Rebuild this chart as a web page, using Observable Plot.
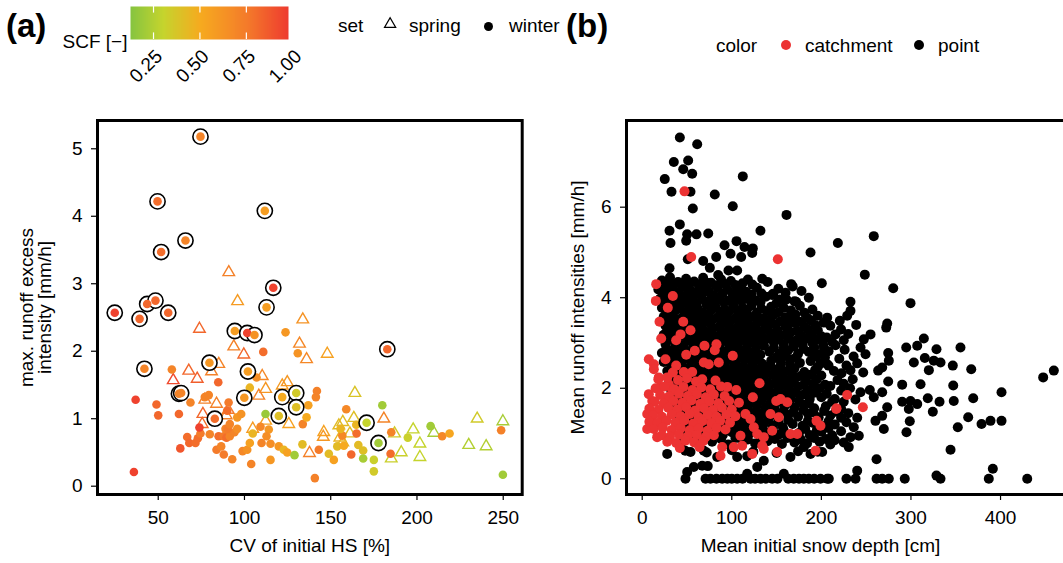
<!DOCTYPE html>
<html><head><meta charset="utf-8">
<script src="https://cdn.jsdelivr.net/npm/d3@7"></script>
<script src="https://cdn.jsdelivr.net/npm/@observablehq/plot@0.6"></script>
<style>
html,body{margin:0;padding:0;background:#fff;overflow:hidden;}
#root{position:relative;width:1063px;height:563px;overflow:hidden;font-family:"Liberation Sans",Arial,Helvetica,sans-serif;color:#000;}
.lbl{position:absolute;font-size:19px;line-height:20px;white-space:nowrap;}
.tag{position:absolute;font-size:33px;font-weight:bold;line-height:33px;white-space:nowrap;}
</style></head><body><div id="root"></div>
<script>
const FONT = '"Liberation Sans", Arial, Helvetica, sans-serif';

// ---------- tick labels ----------
const cvTicks = [50, 100, 150, 200, 250];
const intensityTicks = [0, 1, 2, 3, 4, 5];
const depthTicks = [0, 100, 200, 300, 400];
const meanIntTicks = [0, 2, 4, 6];
const scfTicks = [0.25, 0.5, 0.75, 1.0];
const scfDomain = [0.126, 0.977];
const scfStops = [0.126, 0.3, 0.5, 0.75, 0.977];
const scfColors = ["#86c440", "#c5d42d", "#f6aa1f", "#f47b2a", "#ee3a2f"];
const setNames = ["spring", "winter"];
const colorNames = ["catchment", "point"];

// ---------- panel (a): [CV of initial HS %, max runoff excess intensity mm/h, SCF] ----------
const springPoints = [
[90.9,3.17,0.72],[96,2.74,0.58],[73.9,2.33,0.82],[133.8,2.47,0.62],[93.8,2.07,0.72],[99.6,1.95,0.82],
[131.9,2.11,0.68],[136,1.88,0.68],[148,1.96,0.55],[67.7,1.71,0.82],[58.7,1.57,0.92],[72.6,1.59,0.85],
[85.1,1.81,0.7],[80.9,1.70,0.72],[77,1.28,0.72],[83.8,1.22,0.72],[90.6,1.13,0.75],[89.4,1.05,0.72],
[75.9,1.07,0.82],[75.5,0.92,0.8],[110.3,1.63,0.68],[112.3,1.44,0.6],[108.3,1.34,0.7],[121.9,1.49,0.58],
[124.8,1.54,0.6],[112.3,0.97,0.55],[104.8,0.85,0.58],[125.7,0.92,0.55],[126.7,1.29,0.6],[146,0.8,0.55],
[145.7,0.73,0.6],[137.7,0.49,0.72],[154.7,0.9,0.42],[155.3,0.72,0.45],[164,1.38,0.38],[157,0.95,0.42],
[163.4,1.01,0.4],[161.1,0.78,0.42],[157,0.65,0.45],[180.8,1.0,0.7],[187,0.78,0.35],[190.9,0.5,0.32],
[185.1,0.41,0.32],[197.8,0.84,0.3],[201.7,0.63,0.3],[201.7,0.43,0.3],[209.8,0.79,0.22],[234.9,1.0,0.35],
[230,0.61,0.25],[240.1,0.59,0.25],[249.8,0.96,0.22]
];
const winterPoints = [
[36.9,1.28,0.95],[35.9,0.21,0.95],[49,1.21,0.82],[50,1.05,0.82],[57.9,1.73,0.7],[62,1.07,0.82],
[68.7,1.24,0.7],[62.8,0.56,0.88],[66.8,0.73,0.8],[68,0.64,0.82],[71.6,0.64,0.8],[73,0.71,0.8],
[74.5,0.78,0.75],[73.9,0.87,0.95],[77,1.32,0.7],[79.3,1.35,0.7],[84.8,1.54,0.82],[79.9,0.77,0.7],
[83.8,0.54,0.75],[86.5,0.59,0.7],[88,0.47,0.75],[85,0.74,0.8],[88,0.74,0.75],[89.6,0.72,0.8],
[91.5,0.74,0.7],[94.2,0.8,0.7],[89,0.85,0.7],[90.3,0.85,0.75],[91.5,0.92,0.7],[95.8,0.85,0.65],
[90.8,1.24,0.75],[90,1.12,0.8],[92.9,0.40,0.7],[95.8,1.02,0.6],[98.1,1.07,0.62],[98.9,0.52,0.68],
[101.6,0.54,0.62],[103.9,0.33,0.7],[104.8,0.78,0.45],[103.1,0.64,0.55],[103.1,1.46,0.45],[107,1.61,0.65],
[110.9,1.99,0.8],[123.8,2.28,0.6],[112.2,1.07,0.18],[109.3,0.88,0.68],[114.1,0.84,0.6],[112.8,0.74,0.65],
[109.9,0.64,0.7],[115.1,0.63,0.65],[115.1,0.39,0.6],[119.9,0.59,0.6],[122.8,0.54,0.45],[124.8,0.5,0.55],
[129,0.46,0.2],[130.9,1.97,0.62],[133.8,0.92,0.7],[133.6,0.62,0.42],[136,1.02,0.5],[137,1.2,0.55],
[140.8,0.12,0.72],[141.4,1.32,0.7],[142,1.41,0.72],[143.1,0.54,0.75],[148.9,0.48,0.42],[151.8,0.39,0.55],
[153.8,0.59,0.42],[159,1.14,0.68],[161.9,0.47,0.82],[156.7,0.75,0.68],[155.7,0.85,0.45],[165,0.78,0.8],
[164.8,0.91,0.45],[157.6,0.6,0.5],[166,0.61,0.42],[168.8,0.53,0.4],[168.8,0.41,0.22],[175,0.39,0.32],
[175,0.22,0.35],[179.9,1.2,0.2],[185.1,0.8,0.7],[184.7,0.48,0.8],[194.7,0.72,0.32],[207.9,0.89,0.2],
[214.6,0.74,0.68],[218.9,0.78,0.52],[248.8,0.83,0.72],[249.8,0.17,0.2]
];
const winterRinged = [
[74.5,5.18,0.7],[49.6,4.22,0.8],[111.8,4.08,0.57],[65.8,3.64,0.7],[51.7,3.47,0.8],[116.7,2.94,0.95],
[112.8,2.65,0.57],[24.8,2.57,0.95],[39.2,2.48,0.82],[43.6,2.70,0.82],[48.4,2.75,0.82],[55.8,2.57,0.82],
[42,1.74,0.7],[94.4,2.30,0.57],[101.6,2.27,0.95],[105.8,2.24,0.62],[79.7,1.83,0.6],[102,1.70,0.57],
[62,1.37,0.7],[63.3,1.38,0.7],[99.9,1.31,0.6],[82.8,1.0,0.8],[121.9,1.32,0.5],[130,1.38,0.35],
[130,1.17,0.4],[119.9,1.04,0.4],[182.8,2.03,0.82],[170.8,0.94,0.3],[177.7,0.64,0.2]
];

// ---------- panel (b): [mean initial snow depth cm, mean runoff intensity mm/h] ----------
const pointPoints = [
[42,7.54],[61.4,7.39],[35.3,7.0],[51.3,7.03],[45.8,6.84],[55.8,6.74],[25.2,6.62],[112.3,6.68],[32.7,6.34],
[53.9,6.34],[81,6.28],[56.5,5.97],[101.1,6.02],[161.1,5.83],[42,5.62],[30.5,5.48],[31.6,5.21],[50.2,5.4],
[60.6,5.4],[73.7,5.42],[49.1,5.26],[132,5.48],[91.9,5.16],[105.3,5.25],[114.2,5.12],[123.5,5.09],[122.8,4.99],
[98.6,4.97],[110.5,4.9],[82.6,4.9],[68.1,4.81],[50.9,4.85],[187.9,5.0],[218.4,5.21],[258.5,5.36],[30.5,4.65],
[75.5,4.66],[84.8,4.5],[96.3,4.6],[106,4.6],[134,4.42],[166.3,4.3],[177.8,4.15],[200.5,4.32],[146.2,4.09],
[153.3,3.96],[161.1,3.96],[171.9,3.91],[248.5,4.51],[280.2,4.21],[232.5,3.91],[299.5,3.88],
[206.5,3.56],[202.7,3.45],[232.5,3.71],[228.8,3.6],[220.6,3.49],[238.9,3.4],[273.5,3.43],[272.4,3.34],
[215.8,3.19],[225,3.06],[215.8,2.95],[254.9,3.19],[247.4,3.08],[243.7,2.9],[249.3,2.75],[274.6,2.78],
[275.3,2.61],[294.7,2.9],[307,2.94],[314.4,3.1],[328.5,2.86],[355.3,2.9],[303.2,2.57],[315.5,2.67],
[325.5,2.61],[333,2.57],[320,2.4],[346.7,2.5],[367.3,2.42],[447.6,2.24],[459.5,2.39],[206.5,2.53],
[222.5,2.33],[232.5,2.4],[246.7,2.35],[263.4,2.39],[267.9,2.46],[274.6,2.15],[290.2,2.08],[310.7,2.09],
[347.2,2.06],[243.7,1.91],[254.1,1.96],[267.9,1.91],[258.5,1.8],[290.2,1.7],[299.5,1.72],[307,1.65],
[297.6,1.54],[318.8,1.78],[331.9,1.7],[347.8,1.72],[324.4,1.48],[369.5,1.78],[401.1,1.91],[273.5,1.58],
[267.9,1.39],[260.4,1.28],[269.7,1.1],[298.7,1.27],[295,1.03],[363.9,1.36],[352.3,1.14],[378.8,1.21],
[388.8,1.28],[401.1,1.28],[344.2,0.64],[261.6,0.43],[230.6,0.7],[232.5,0.92],[241.8,0.95],[236.2,1.14],
[200.9,0.59],
[222,3.3],[230,3.2],[226,2.85],[236,2.7],[220,2.65],[228,2.5],[240,2.55],[225,2.1],[235,2.2],[222,1.95],
[232,2.0],[225,1.7],[238,1.75],[230,1.45],[222,1.55],[240,1.35],[228,1.25],[222,1.05],[215,0.85],[225,0.8],
[206.5,0],[228,0],[238.1,0],[240,0.18],[261.6,0],[267.9,0],[275.3,0],[293.1,0],[328.5,0.07],[333,0],
[386.9,0],[391.4,0.22],[429.8,0],[48.3,0],[50.2,0.15],[57.6,0.26],[70.7,0],[73.2,0.28],[76.2,0],[82.9,0],
[89.3,0],[95,0],[100,0],[106,0],[112,0],[117.2,0.11],[120.9,0],[126,0],[132.1,0],[138,0],[145.1,0],[151,0],
[158.1,0.11],[163,0],[169.2,0],[175,0],[180.4,0],[186,0],[192,0],[199,0],[208.3,0],
[27.9,0.55],[53.9,0.59],[68.8,0.62],[67,0.29],[83.7,0.48],[106,0.48],[117.2,0.5],[128.4,0.26],[135.7,0.4],
[165.5,0.48],[180.4,0.7],[187.9,0.55],
[22,4.38],[31,4.45],[40,4.35],[49,4.42],[58,4.36],[68,4.44],[77,4.33],[88,4.41],[99,4.37],[118,4.4],[140,4.35],
[18,4.18],[27,4.22],[36,4.15],[45,4.24],[54,4.17],[64,4.21],[74,4.14],[84,4.23],[95,4.18],[106,4.2],[116,4.13],[128,4.22],[152,4.2],[168,4.25],
[20,3.98],[29,4.03],[38,3.95],[47,4.02],[56,3.97],[66,4.04],[76,3.96],[86,4.01],[96,3.94],[106,4.03],[117,3.98],[127,3.94],[138,4.02],[186,4.0],
[22,3.78],[32,3.83],[42,3.77],[52,3.81],[62,3.76],[72,3.84],[82,3.79],[92,3.75],[102,3.82],[112,3.78],[122,3.83],[133,3.76],[144,3.8],[158,3.78],[176,3.82],[190,3.74],
[24,3.58],[34,3.62],[44,3.55],[54,3.61],[64,3.57],[74,3.63],[84,3.56],[94,3.6],[104,3.55],[114,3.62],[124,3.58],[135,3.54],[146,3.61],[160,3.57],[171,3.63],[184,3.56],[196,3.6],
[26,3.38],[36,3.42],[46,3.36],[56,3.41],[66,3.37],[76,3.43],[86,3.36],[96,3.4],[106,3.35],[116,3.42],[126,3.38],[137,3.34],[148,3.41],[160,3.37],[170,3.44],[181,3.36],[193,3.4],[210,3.38],
[24,3.18],[34,3.23],[44,3.16],[54,3.21],[64,3.17],[74,3.24],[84,3.15],[94,3.2],[104,3.16],[114,3.22],[124,3.18],[134,3.14],[145,3.21],[156,3.17],[166,3.24],[178,3.16],[189,3.2],[200,3.15],
[26,2.98],[36,3.02],[46,2.95],[56,3.01],[66,2.97],[76,3.04],[86,2.96],[96,3.0],[106,2.95],[116,3.02],[126,2.98],[136,2.94],[147,3.01],[158,2.97],[168,3.04],[179,2.96],[190,3.0],[202,2.96],[212,3.02],
[22,2.78],[32,2.82],[42,2.76],[52,2.81],[62,2.77],[72,2.83],[82,2.75],[92,2.8],[102,2.76],[112,2.82],[122,2.78],[132,2.74],[142,2.81],[153,2.77],[163,2.84],[174,2.76],[186,2.8],[197,2.75],[208,2.82],
[24,2.58],[34,2.62],[44,2.56],[54,2.61],[64,2.57],[74,2.63],[84,2.55],[94,2.6],[104,2.56],[114,2.62],[124,2.58],[134,2.54],[144,2.61],[155,2.57],[165,2.64],[176,2.56],[188,2.6],[199,2.55],
[28,2.38],[38,2.42],[48,2.36],[58,2.41],[68,2.37],[78,2.43],[88,2.35],[98,2.4],[108,2.36],[118,2.42],[128,2.38],[138,2.34],[149,2.41],[160,2.37],[170,2.44],[181,2.36],[193,2.4],[214,2.38],
[30,2.18],[40,2.22],[50,2.16],[60,2.21],[70,2.17],[80,2.23],[90,2.15],[100,2.2],[110,2.16],[120,2.22],[130,2.18],[140,2.14],[151,2.21],[162,2.17],[172,2.24],[183,2.16],[195,2.2],[218,2.18],
[32,1.98],[42,2.02],[52,1.96],[62,2.01],[72,1.97],[82,2.03],[92,1.95],[102,2.0],[112,1.96],[122,2.02],[132,1.98],[142,1.94],[153,2.01],[164,1.97],[174,2.04],[185,1.96],[198,2.0],[210,2.05],
[34,1.78],[44,1.82],[54,1.76],[64,1.81],[74,1.77],[84,1.83],[94,1.75],[104,1.8],[114,1.76],[124,1.82],[134,1.78],[144,1.74],[155,1.81],[166,1.77],[176,1.84],[187,1.76],[200,1.8],[215,1.76],
[38,1.58],[48,1.62],[58,1.56],[68,1.61],[78,1.57],[88,1.63],[98,1.55],[108,1.6],[118,1.56],[128,1.62],[138,1.58],[148,1.54],[159,1.61],[170,1.57],[180,1.64],[192,1.56],[205,1.6],
[42,1.38],[52,1.42],[62,1.36],[72,1.41],[82,1.37],[92,1.43],[102,1.35],[112,1.4],[122,1.36],[132,1.42],[142,1.38],[152,1.34],[163,1.41],[174,1.37],[185,1.44],[197,1.36],[210,1.4],[222,1.35],
[46,1.18],[56,1.22],[66,1.16],[76,1.21],[86,1.17],[96,1.23],[106,1.15],[116,1.2],[126,1.16],[136,1.22],[146,1.18],[157,1.14],[168,1.21],[179,1.17],[190,1.24],[203,1.16],[215,1.2],
[50,0.98],[60,1.02],[70,0.96],[80,1.01],[90,0.97],[100,1.03],[110,0.95],[120,1.0],[131,0.96],[142,1.02],[153,0.98],[164,0.94],[175,1.01],[187,0.97],[200,1.04],[212,0.96],
[44,0.8],[62,0.78],[78,0.82],[96,0.76],[112,0.81],[126,0.78],[140,0.83],[156,0.77],[170,0.8],[184,0.78],[198,0.82],[210,0.76],
[48,0.62],[72,0.58],[100,0.63],[124,0.6],[150,0.57],[174,0.61],[196,0.6],
[26,4.28],[35,4.31],[44,4.27],[53,4.32],[63,4.29],[72,4.33],[82,4.27],[93,4.3],[104,4.28],[112,4.32],[123,4.29],
[24,4.09],[33,4.12],[42,4.07],[51,4.11],[60,4.08],[70,4.13],[80,4.06],[90,4.1],[101,4.08],[111,4.12],[122,4.07],[133,4.1],[145,4.06],[160,4.11],
[25,3.88],[34,3.91],[43,3.87],[52,3.92],[61,3.88],[71,3.91],[81,3.86],[91,3.9],[101,3.88],[111,3.93],[122,3.87],[132,3.9],[150,3.88],[170,3.92],
[27,3.69],[37,3.72],[47,3.67],[57,3.71],[67,3.68],[77,3.72],[87,3.66],[97,3.7],[107,3.68],[117,3.73],[128,3.67],[139,3.7],[152,3.68],[166,3.72],[181,3.67],
[29,3.49],[39,3.52],[49,3.47],[59,3.51],[69,3.48],[79,3.52],[89,3.46],[99,3.5],[109,3.48],[119,3.53],[130,3.47],[141,3.5],[154,3.48],[165,3.52],[176,3.47],[188,3.5],
[29,3.29],[39,3.32],[49,3.27],[59,3.31],[69,3.28],[79,3.32],[89,3.26],[99,3.3],[109,3.28],[119,3.33],[129,3.27],[140,3.3],[151,3.28],[162,3.32],[173,3.27],[185,3.3],[196,3.28],
[31,3.09],[41,3.12],[51,3.07],[61,3.11],[71,3.08],[81,3.12],[91,3.06],[101,3.1],[111,3.08],[121,3.13],[131,3.07],[141,3.1],[152,3.08],[163,3.12],[173,3.07],[184,3.1],[195,3.08],[206,3.12],
[27,2.89],[37,2.92],[47,2.87],[57,2.91],[67,2.88],[77,2.92],[87,2.86],[97,2.9],[107,2.88],[117,2.93],[127,2.87],[147,2.9],[158,2.88],[169,2.92],[180,2.87],[192,2.9],[203,2.88],
[29,2.69],[39,2.72],[49,2.67],[59,2.71],[69,2.68],[79,2.72],[89,2.66],[99,2.7],[109,2.68],[119,2.73],[129,2.67],[150,2.68],[160,2.72],[171,2.67],[193,2.7],[204,2.68],
[33,2.49],[43,2.52],[53,2.47],[63,2.51],[73,2.48],[83,2.52],[93,2.46],[103,2.5],[113,2.48],[123,2.53],[133,2.47],[143,2.5],[154,2.48],[165,2.52],[196,2.47],[208,2.5],
[35,2.29],[45,2.32],[55,2.27],[65,2.31],[75,2.28],[85,2.32],[95,2.26],[105,2.3],[115,2.28],[125,2.33],[135,2.27],[145,2.3],[156,2.28],[167,2.32],[177,2.27],[188,2.3],[200,2.28],
[37,2.09],[47,2.12],[57,2.07],[67,2.11],[77,2.08],[87,2.12],[97,2.06],[107,2.1],[117,2.08],[127,2.13],[137,2.07],[147,2.1],[158,2.08],[169,2.12],[180,2.07],[191,2.1],[204,2.08],
[39,1.89],[49,1.92],[59,1.87],[69,1.91],[79,1.88],[89,1.92],[99,1.86],[109,1.9],[119,1.88],[129,1.93],[139,1.87],[149,1.9],[160,1.88],[171,1.92],[181,1.87],[192,1.9],[206,1.88],
[43,1.69],[53,1.72],[63,1.67],[73,1.71],[83,1.68],[93,1.72],[103,1.66],[113,1.7],[123,1.68],[133,1.73],[143,1.67],[153,1.7],[164,1.68],[175,1.72],[186,1.67],[212,1.7],
[47,1.49],[57,1.52],[67,1.47],[77,1.51],[87,1.48],[97,1.52],[107,1.46],[117,1.5],[127,1.48],[137,1.53],[147,1.47],[158,1.5],[169,1.48],[180,1.52],[191,1.47],[203,1.5],[216,1.48],
[51,1.29],[61,1.32],[71,1.27],[81,1.31],[91,1.28],[101,1.32],[111,1.26],[121,1.3],[131,1.28],[141,1.33],[152,1.27],[163,1.3],[185,1.28],[196,1.32],[208,1.27],
[55,1.09],[65,1.12],[75,1.07],[85,1.11],[95,1.08],[105,1.12],[115,1.06],[125,1.1],[135,1.08],[146,1.12],[158,1.07],[182,1.1],[195,1.08],[208,1.12],
[58,0.89],[70,0.9],[88,0.88],[104,0.9],[118,0.87],[133,0.9],[148,0.88],[162,0.9],[177,0.87],[192,0.9],[205,0.88]
];
const catchmentPoints = [
[47.2,6.35],[54.7,4.9],[151.4,4.85],[15.6,4.3],[15.2,3.93],[34.2,4.04],[28.6,3.78],[19.3,3.47],[21.2,3.1],
[45.8,3.47],[53.9,3.28],[42.8,3.19],[37.9,3.06],[26,2.64],[49.1,2.74],[58.7,2.83],[69.5,2.94],[82.9,2.97],
[81,2.84],[101.1,2.72],[7.4,2.64],[13,2.53],[13,2.42],[37.9,2.5],[34.2,2.35],[46.4,2.36],[55.8,2.36],
[68.8,2.57],[74.3,2.53],[85.5,2.57],[67,2.2],[81.8,2.17],[94.9,2.03],[105,1.96],[131,2.11],[123.5,1.8],
[149.6,1.72],[154.4,1.76],[161.9,1.69],[216.6,1.54],[194.6,1.28],[199,1.17],[5.6,1.43],[5.6,1.1],[16.7,0.92],
[11.2,1.72],[7.4,1.87],[18.5,2.24],[20.4,2.02],[29.7,2.09],[26,1.72],[33.5,1.95],[115.3,1.43],[120.9,1.32],
[128.4,0.99],[135.7,0.92],[145.1,1.06],[143.2,1.43],[152.5,1.36],[134,0.73],[135.7,0.66],[150.7,0.59],
[165.5,0.99],[173,0.99],[122.8,0.55],[109.7,0.95],[111.6,0.73],[124.6,1.14],[193.5,0.62],[89.3,0.7],
[87.4,0.51],[102.3,0.7],[228.8,1.85],[216.9,1.56],[246.3,1.58],
[18,2.2],[28,2.24],[40,2.18],[50,2.22],[60,2.15],
[15,2.0],[25,2.04],[36,1.98],[46,2.03],[56,1.96],[66,2.02],[76,1.98],[88,2.04],
[20,1.85],[30,1.82],[41,1.88],[51,1.83],[61,1.87],[71,1.8],[80,1.86],[92,1.83],
[14,1.7],[24,1.66],[35,1.72],[45,1.68],[55,1.73],[65,1.66],[75,1.71],[85,1.67],[97,1.72],[108,1.68],
[8,1.55],[18,1.52],[29,1.57],[39,1.53],[49,1.58],[59,1.51],[69,1.56],[79,1.52],[89,1.57],[100,1.53],
[12,1.4],[22,1.37],[33,1.42],[43,1.38],[53,1.43],[63,1.36],[73,1.41],[83,1.37],[94,1.42],[104,1.38],
[8,1.26],[17,1.23],[27,1.28],[37,1.24],[47,1.29],[57,1.22],[67,1.27],[77,1.23],[87,1.28],[98,1.24],
[13,1.1],[23,1.13],[33,1.08],[43,1.12],[53,1.07],[63,1.11],[73,1.06],[83,1.12],[93,1.09],
[22,0.96],[31,0.93],[41,0.98],[51,0.94],[61,0.97],[71,0.93],[80,0.96],
[28,0.82],[38,0.79],[48,0.84],[58,0.8],[68,0.83],
[42,0.68],[64,0.7]
];

// ---------- build tables ----------
const toA = (set, ring) => ([cv, intensity, scf]) => ({cv, intensity, scf, set, ring});
const spring = springPoints.map(toA("spring", false));
const winter = winterPoints.map(toA("winter", false));
const ringed = winterRinged.map(toA("winter", true));
const toB = (color) => ([depth, intensity]) => ({depth, intensity, color});
const pointTbl = pointPoints.map(toB("point"));
const catchTbl = catchmentPoints.map(toB("catchment"));

const colorScale = {type: "linear", domain: scfStops, range: scfColors, interpolate: "rgb"};
const root = document.getElementById("root");
const intFmt = d => String(d);

function place(el, left, top) {
  el.style.position = "absolute";
  el.style.left = left + "px";
  el.style.top = top + "px";
  root.appendChild(el);
  return el;
}

// ---------- colour bar (SCF) ----------
const rampMark = (typeof Plot.raster === "function")
  ? Plot.raster({x1: scfDomain[0], x2: scfDomain[1], y1: 0, y2: 1, fill: (x, y) => x, imageRendering: "pixelated"})
  : Plot.rect(d3.range(scfDomain[0], scfDomain[1], 0.005), {x1: d => d, x2: d => d + 0.0055, y1: 0, y2: 1, fill: d => d});
const bar = Plot.plot({
  width: 340, height: 110, marginLeft: 130, marginRight: 52, marginTop: 6, marginBottom: 71,
  x: {domain: scfDomain, axis: null}, y: {domain: [0, 1], axis: null},
  color: colorScale,
  style: {fontFamily: FONT, fontSize: "19px", background: "transparent", color: "black", overflow: "visible"},
  marks: [
    rampMark,
    Plot.ruleX(scfTicks.slice(0, 3), {y1: 0, y2: 0.2, stroke: "white", strokeWidth: 1.2}),
    Plot.ruleX(scfTicks.slice(0, 3), {y1: 0.8, y2: 1, stroke: "white", strokeWidth: 1.2}),
    Plot.text(scfTicks, {x: d => d, text: d => d.toFixed(2), frameAnchor: "bottom", rotate: -45, textAnchor: "end", dx: 10, dy: 18, fill: "black"}),
    Plot.text(["SCF [\u2212]"], {frameAnchor: "bottom-left", text: d => d, textAnchor: "end", dx: -3, dy: 8, fill: "black"})
  ]
});
place(bar, 0, 0);

// ---------- html legend pieces ----------
function txt(s, left, top, cls) {
  const d = document.createElement("div");
  d.className = cls; d.textContent = s;
  return place(d, left, top);
}
function sym(kind, cx, cy, r, color) {
  const s = d3.create("svg").attr("width", 2 * r + 6).attr("height", 2 * r + 6).style("overflow", "visible");
  if (kind === "triangle") {
    s.append("path").attr("d", d3.symbol(d3.symbolTriangle, Math.PI * r * r)())
      .attr("transform", `translate(${r + 3},${r + 3})`).attr("fill", "none").attr("stroke", color).attr("stroke-width", 1.3);
  } else {
    s.append("circle").attr("cx", r + 3).attr("cy", r + 3).attr("r", r).attr("fill", color);
  }
  place(s.node(), cx - r - 3, cy - r - 3);
}
txt("(a)", 6, 9, "tag");
txt("(b)", 566, 9, "tag");
txt("set", 338, 15.5, "lbl");
sym("triangle", 390, 24, 4.1, "black");
txt(setNames[0], 409, 15.5, "lbl");
sym("circle", 488, 26, 4.5, "black");
txt(setNames[1], 509, 15.5, "lbl");
txt("color", 716, 35.5, "lbl");
sym("circle", 785.5, 45, 5, "#ec3232");
txt(colorNames[0], 805, 35.5, "lbl");
sym("circle", 918.5, 45, 5, "black");
txt(colorNames[1], 938, 35.5, "lbl");

// ---------- panel (a) ----------
const plotA = Plot.plot({
  width: 531, height: 463, marginLeft: 97, marginRight: 9.3, marginTop: 20, marginBottom: 69,
  x: {domain: [14.8, 261]}, y: {domain: [-0.123, 5.419]},
  color: colorScale,
  style: {fontFamily: FONT, fontSize: "19px", color: "black", background: "white", overflow: "visible"},
  marks: [
    Plot.dot(spring, {x: "cv", y: "intensity", stroke: "scf", symbol: "triangle", r: 4.3, strokeWidth: 1.4, fill: "none"}),
    Plot.dot(winter, {x: "cv", y: "intensity", fill: "scf", r: 4.3}),
    Plot.dot(ringed, {x: "cv", y: "intensity", r: 7.6, fill: "white", stroke: "black", strokeWidth: 1.6}),
    Plot.dot(ringed, {x: "cv", y: "intensity", fill: "scf", r: 4.3}),
    Plot.frame({stroke: "black", strokeWidth: 3}),
    Plot.axisX({ticks: cvTicks, tickFormat: intFmt, tickSize: 6, tickPadding: 10, label: null, strokeWidth: 1.2}),
    Plot.axisY({ticks: intensityTicks, tickFormat: intFmt, tickSize: 6, tickPadding: 9, label: null, strokeWidth: 1.2}),
    Plot.text(["CV of initial HS [%]"], {text: d => d, frameAnchor: "bottom", textAnchor: "middle", dy: 57, fill: "black"}),
    Plot.text(["max. runoff excess\nintensity [mm/h]"], {text: d => d, frameAnchor: "left", textAnchor: "middle", rotate: -90, dx: -61, lineHeight: 0.95, fill: "black"})
  ]
});
place(plotA, 0, 100);

// ---------- panel (b) ----------
const plotB = Plot.plot({
  width: 560, height: 463, marginLeft: 95, marginRight: 15, marginTop: 20, marginBottom: 69,
  x: {domain: [-17.53, 484.8]}, y: {domain: [-0.347, 7.915]},
  color: {domain: colorNames, range: ["#ec3232", "black"]},
  style: {fontFamily: FONT, fontSize: "19px", color: "black", background: "white", overflow: "visible"},
  marks: [
    Plot.dot(pointTbl, {x: "depth", y: "intensity", fill: "color", r: 5}),
    Plot.dot(catchTbl, {x: "depth", y: "intensity", fill: "color", r: 5}),
    Plot.frame({stroke: "black", strokeWidth: 3}),
    Plot.axisX({ticks: depthTicks, tickFormat: intFmt, tickSize: 6, tickPadding: 10, label: null, strokeWidth: 1.2}),
    Plot.axisY({ticks: meanIntTicks, tickFormat: intFmt, tickSize: 6, tickPadding: 9, label: null, strokeWidth: 1.2}),
    Plot.text(["Mean initial snow depth [cm]"], {text: d => d, frameAnchor: "bottom-left", textAnchor: "middle", dx: 194, dy: 57, fill: "black"}),
    Plot.text(["Mean runoff intensities [mm/h]"], {text: d => d, frameAnchor: "left", textAnchor: "middle", rotate: -90, dx: -49, fill: "black"})
  ]
});
place(plotB, 531, 100);
</script></body></html>
